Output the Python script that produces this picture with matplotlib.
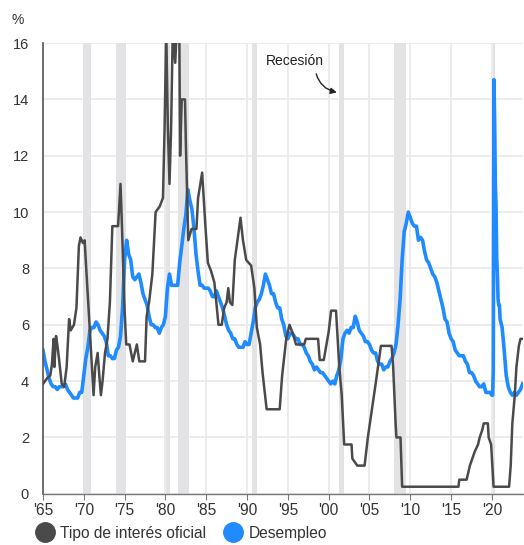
import numpy as np
import matplotlib
matplotlib.use('Agg')
import matplotlib.pyplot as plt
from matplotlib.lines import Line2D

plt.rcParams['font.family'] = ['Liberation Sans', 'DejaVu Sans']

# ---------------- data ----------------
# Official interest rate (policy rate), breakpoints (year, %)
rate_years = [1965.0, 1965.5, 1965.9, 1966.1, 1966.3, 1966.4, 1966.6, 1966.8, 1967.0, 1967.3,
              1967.6, 1967.9, 1968.2, 1968.4, 1968.8, 1969.1, 1969.4, 1969.6, 1969.9, 1970.1,
              1970.3, 1970.6, 1970.9, 1971.2, 1971.4, 1971.7, 1971.9, 1972.1, 1972.3, 1972.6,
              1972.9, 1973.2, 1973.5, 1974.2, 1974.5, 1974.7, 1975.0, 1975.2, 1975.6, 1975.8,
              1976.0, 1976.5, 1976.8, 1977.5, 1977.7, 1978.0, 1978.4, 1978.8, 1979.3, 1979.7,
              1979.9, 1980.1, 1980.3, 1980.5, 1980.7, 1980.9, 1981.2, 1981.4, 1981.7, 1981.8,
              1982.0, 1982.4, 1982.5, 1982.8, 1983.2, 1983.8, 1984.0, 1984.5, 1984.9, 1985.2,
              1985.6, 1986.0, 1986.5, 1986.9, 1987.2, 1987.5, 1987.7, 1987.9, 1988.2, 1988.5,
              1989.2, 1989.5, 1989.9, 1990.5, 1990.9, 1991.2, 1991.6, 1991.9, 1992.2, 1992.4,
              1994.0, 1994.3, 1994.8, 1995.2, 1995.6, 1996.0, 1997.0, 1997.2, 1998.7, 1998.9,
              1999.4, 1999.7, 2000.0, 2000.3, 2000.9, 2001.3, 2001.6, 2001.9, 2002.8, 2002.9,
              2003.5, 2004.4, 2004.8, 2005.3, 2005.8, 2006.4, 2007.7, 2007.9, 2008.2, 2008.3,
              2008.8, 2009.0, 2015.9, 2016.0, 2016.9, 2017.3, 2017.6, 2017.9, 2018.3, 2018.5,
              2018.8, 2019.0, 2019.5, 2019.6, 2019.9, 2020.2, 2022.1, 2022.3, 2022.5, 2022.8,
              2023.0, 2023.3, 2023.5, 2023.9]
rate_values = [3.9, 4.1, 4.2, 4.6, 5.5, 4.5, 5.6, 5.2, 4.7, 3.9,
               3.8, 4.5, 6.2, 5.8, 6.0, 6.6, 8.8, 9.1, 8.9, 9.0,
               8.0, 6.5, 5.0, 3.5, 4.5, 5.0, 4.2, 3.5, 4.0, 5.0,
               5.5, 6.8, 9.5, 9.5, 11.0, 9.3, 6.5, 5.3, 5.3, 5.0,
               4.7, 5.3, 4.7, 4.7, 6.3, 6.8, 7.8, 10.0, 10.2, 10.5,
               13.0, 16.5, 13.0, 11.0, 13.0, 16.5, 15.3, 16.5, 16.5, 12.0,
               14.0, 14.0, 12.5, 9.0, 9.4, 9.4, 10.5, 11.4, 9.5, 8.2,
               7.9, 7.5, 6.0, 6.0, 6.6, 6.8, 7.3, 6.8, 6.7, 8.3,
               9.8, 9.0, 8.3, 8.1, 7.3, 5.9, 5.3, 4.3, 3.5, 3.0,
               3.0, 4.2, 5.5, 6.0, 5.7, 5.3, 5.3, 5.5, 5.5, 4.75,
               4.75, 5.25, 5.75, 6.5, 6.5, 4.5, 3.5, 1.75, 1.75, 1.25,
               1.0, 1.0, 2.0, 3.0, 4.0, 5.25, 5.25, 4.5, 2.5, 2.0,
               2.0, 0.25, 0.25, 0.5, 0.5, 1.0, 1.25, 1.5, 1.75, 2.0,
               2.25, 2.5, 2.5, 2.0, 1.75, 0.25, 0.25, 1.0, 2.5, 3.5,
               4.5, 5.25, 5.5, 5.5]

# Unemployment rate, quarterly 1965Q1 - 2019Q4 (%)
unemp_quarterly = [
    5.1, 4.7, 4.4, 4.1,  3.9, 3.8, 3.8, 3.7,  3.8, 3.8, 3.8, 3.9,  3.7, 3.6, 3.5, 3.4,
    3.4, 3.4, 3.6, 3.6,  4.2, 4.8, 5.2, 5.8,  5.9, 5.9, 6.1, 6.0,  5.8, 5.7, 5.6, 5.4,
    4.9, 4.9, 4.8, 4.8,  5.1, 5.2, 5.6, 6.6,  8.3, 9.0, 8.5, 8.3,  7.7, 7.6, 7.7, 7.8,
    7.5, 7.1, 6.9, 6.7,  6.3, 6.0, 6.0, 5.9,  5.9, 5.7, 5.9, 6.0,  6.3, 7.3, 7.8, 7.4,
    7.4, 7.4, 7.4, 8.2,  8.8, 9.4, 9.9, 10.8, 10.4, 10.1, 9.4, 8.5, 7.9, 7.4, 7.4, 7.3,
    7.3, 7.3, 7.2, 7.0,  7.0, 7.2, 7.0, 6.8,  6.6, 6.3, 6.0, 5.8,  5.7, 5.5, 5.5, 5.3,
    5.2, 5.2, 5.2, 5.4,  5.3, 5.3, 5.7, 6.1,  6.6, 6.8, 6.9, 7.1,  7.4, 7.8, 7.6, 7.4,
    7.1, 7.1, 6.8, 6.6,  6.6, 6.2, 6.0, 5.6,  5.5, 5.7, 5.7, 5.6,  5.5, 5.5, 5.3, 5.3,
    5.2, 5.0, 4.9, 4.7,  4.6, 4.4, 4.5, 4.4,  4.3, 4.3, 4.2, 4.1,  4.0, 3.9, 4.0, 3.9,
    4.2, 4.4, 4.8, 5.5,  5.7, 5.8, 5.7, 5.9,  5.9, 6.3, 6.1, 5.8,  5.7, 5.6, 5.4, 5.4,
    5.3, 5.1, 5.0, 5.0,  4.7, 4.6, 4.6, 4.4,  4.5, 4.5, 4.7, 4.8,  5.0, 5.3, 6.0, 6.9,
    8.3, 9.3, 9.6, 10.0, 9.8, 9.6, 9.5, 9.5,  9.0, 9.1, 9.0, 8.6,  8.3, 8.2, 8.0, 7.8,
    7.7, 7.5, 7.2, 6.9,  6.6, 6.2, 6.1, 5.7,  5.5, 5.4, 5.1, 5.0,  4.9, 4.9, 4.9, 4.7,
    4.6, 4.3, 4.3, 4.2,  4.0, 3.9, 3.8, 3.8,  3.9, 3.6, 3.6, 3.6]
# Unemployment rate, monthly 2020 (%)
unemp_2020_monthly = [3.5, 3.5, 4.4, 14.7, 13.2, 11.0, 10.2, 8.4, 7.8, 6.9, 6.7, 6.7]
# Unemployment rate, quarterly 2021Q1 - 2023Q4 (%)
unemp_2021_quarterly = [6.2, 5.9, 5.1, 4.2, 3.8, 3.6, 3.5, 3.6, 3.5, 3.6, 3.7, 3.9]

# Recession periods (start, end)
recessions = [(1969.95, 1970.9), (1973.9, 1975.2), (1980.05, 1980.55), (1981.6, 1982.85),
              (1990.6, 1991.2), (2001.25, 2001.85), (2007.95, 2009.45), (2020.1, 2020.35)]

x_ticks = [1965, 1970, 1975, 1980, 1985, 1990, 1995, 2000, 2005, 2010, 2015, 2020]
x_tick_labels = ["'65", "'70", "'75", "'80", "'85", "'90", "'95", "'00", "'05", "'10", "'15", "'20"]
y_ticks = [0, 2, 4, 6, 8, 10, 12, 14, 16]

series_names = ['Tipo de interés oficial', 'Desempleo']
gray = '#4a4a4a'
blue = '#1f8bff'

# ---------------- build time axes ----------------
t_q1 = 1965 + np.arange(len(unemp_quarterly)) * 0.25
t_m = 2020 + np.arange(len(unemp_2020_monthly)) / 12.0
t_q2 = 2021 + np.arange(len(unemp_2021_quarterly)) * 0.25
unemp_t = np.concatenate([t_q1, t_m, t_q2])
unemp_v = np.concatenate([unemp_quarterly, unemp_2020_monthly, unemp_2021_quarterly])

# ---------------- plot ----------------
fig = plt.figure(figsize=(5.24, 5.45), dpi=100)
ax = fig.add_axes([0.082, 0.094, 0.916, 0.827])

for s, e in recessions:
    ax.axvspan(s, e, color='#e3e3e5', lw=0, zorder=0.6)

ax.set_axisbelow(True)
ax.grid(True, color='#eaeaec', lw=1.3, zorder=0.5)

ax.plot(unemp_t, unemp_v, color=blue, lw=2.6, zorder=2, solid_joinstyle='round')
ax.plot(rate_years, rate_values, color=gray, lw=1.8, zorder=3)

ax.set_xlim(1965, 2023.8)
ax.set_ylim(0, 16)
ax.set_xticks(x_ticks)
ax.set_xticklabels(x_tick_labels)
ax.set_yticks(y_ticks)

for sp in ['top', 'right']:
    ax.spines[sp].set_visible(False)
ax.spines['left'].set_color('#555555')
ax.spines['left'].set_linewidth(1.2)
ax.spines['bottom'].set_color('#777777')
ax.spines['bottom'].set_linewidth(1.0)
ax.tick_params(axis='y', length=0, pad=10, labelsize=10.5, labelcolor='#333333')
ax.tick_params(axis='x', length=4, color='#777777', pad=3, labelsize=11.2, labelcolor='#333333')

fig.text(0.033, 0.963, '%', fontsize=10, color='#333333', ha='center', va='center')

ax.annotate('Recesión', xy=(2001.0, 14.25), xytext=(1992.3, 15.35), ha='left', va='center',
            fontsize=10, color='#222222',
            arrowprops=dict(arrowstyle='-|>', color='#222222', lw=1.0,
                            connectionstyle='arc3,rad=0.35', relpos=(0.85, 0.0),
                            shrinkA=2, shrinkB=0, mutation_scale=9))

handles = [Line2D([], [], marker='o', lw=0, markerfacecolor=gray, markeredgecolor=gray, markersize=14),
           Line2D([], [], marker='o', lw=0, markerfacecolor=blue, markeredgecolor=blue, markersize=14)]
fig.legend(handles, series_names, loc='lower left', bbox_to_anchor=(0.045, -0.018), ncol=2,
           frameon=False, fontsize=11.2, handletextpad=0.45, columnspacing=1.25, handlelength=1.0,
           labelcolor='#333333')

fig.savefig('out.png', dpi=100)
